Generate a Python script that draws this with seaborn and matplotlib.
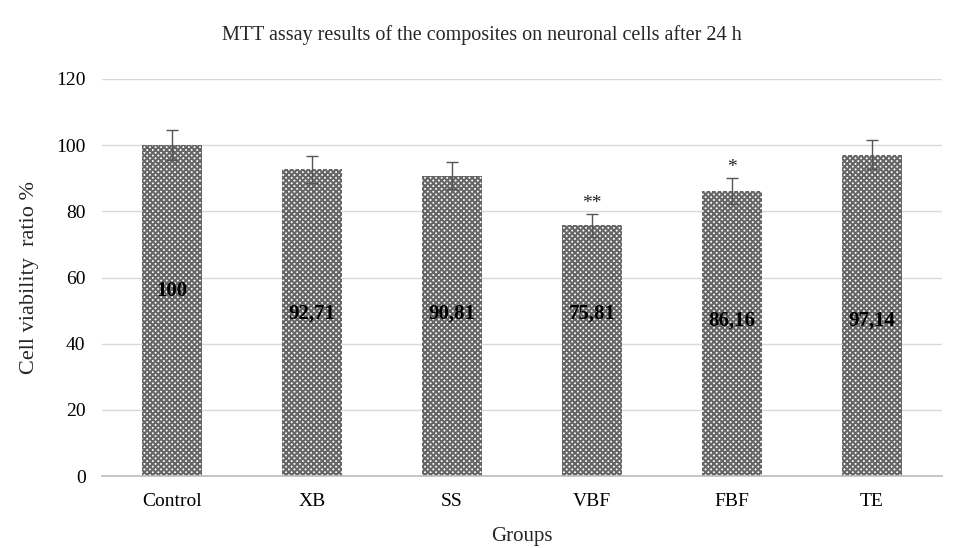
import numpy as np
import pandas as pd
import matplotlib
matplotlib.use("Agg")
import matplotlib.pyplot as plt
import seaborn as sns

groups = ["Control", "XB", "SS", "VBF", "FBF", "TE"]
viability = [100, 92.71, 90.81, 75.81, 86.16, 97.14]
errors = [4.5, 4.0, 4.0, 3.5, 4.0, 4.5]
value_labels = ["100", "92,71", "90,81", "75,81", "86,16", "97,14"]
signif = ["", "", "", "**", "*", ""]


def main():
    sns.set_theme(style="white")
    plt.rcParams["font.family"] = ["Liberation Serif", "DejaVu Serif"]
    plt.rcParams["hatch.linewidth"] = 1.5
    plt.rcParams["hatch.color"] = "#666666"

    df = pd.DataFrame({"Groups": groups, "Viability": viability})

    fig = plt.figure(figsize=(9.64, 5.48), dpi=100)
    ax = fig.add_axes([0.106, 0.131, 0.871, 0.725])

    sns.barplot(data=df, x="Groups", y="Viability", ax=ax, color="white",
                width=0.43, edgecolor="none", errorbar=None, zorder=2)
    for bar in ax.patches:
        bar.set_hatch("xxxxxx")
        bar.set_edgecolor("#666666")
        bar.set_linewidth(0)

    x = np.arange(len(groups))
    ax.errorbar(x, viability, yerr=errors, fmt="none", ecolor="#555555",
                elinewidth=1, capsize=4, capthick=1, zorder=3)

    label_y = [56, 49, 49, 49, 47, 47]
    for i, (lab, ly) in enumerate(zip(value_labels, label_y)):
        ax.text(i, ly, lab, ha="center", va="center", fontsize=15,
                fontweight="bold", color="black", zorder=4)
    for i, s in enumerate(signif):
        if s:
            ax.text(i, viability[i] + errors[i] + 0.5, s, ha="center",
                    va="bottom", fontsize=14, color="#222222", zorder=4)

    ax.set_ylim(0, 120)
    ax.set_xlim(-0.5, len(groups) - 0.5)
    ax.set_yticks(range(0, 121, 20))
    ax.yaxis.grid(True, color="#d9d9d9", linewidth=1)
    ax.set_axisbelow(True)
    for side in ["top", "right", "left"]:
        ax.spines[side].set_visible(False)
    ax.spines["bottom"].set_color("#bfbfbf")
    ax.tick_params(axis="y", length=0, labelsize=14, colors="black", pad=12)
    ax.tick_params(axis="x", length=0, labelsize=14, colors="black", pad=12)

    ax.set_ylabel("Cell viability  ratio %", fontsize=16, labelpad=12)
    ax.set_xlabel("Groups", fontsize=15, labelpad=12)
    fig.suptitle("MTT assay results of the composites on neuronal cells after 24 h",
                 fontsize=14.5, y=0.955)

    fig.savefig("out.png", dpi=100, facecolor="white")
    plt.close(fig)


if __name__ == "__main__":
    main()
